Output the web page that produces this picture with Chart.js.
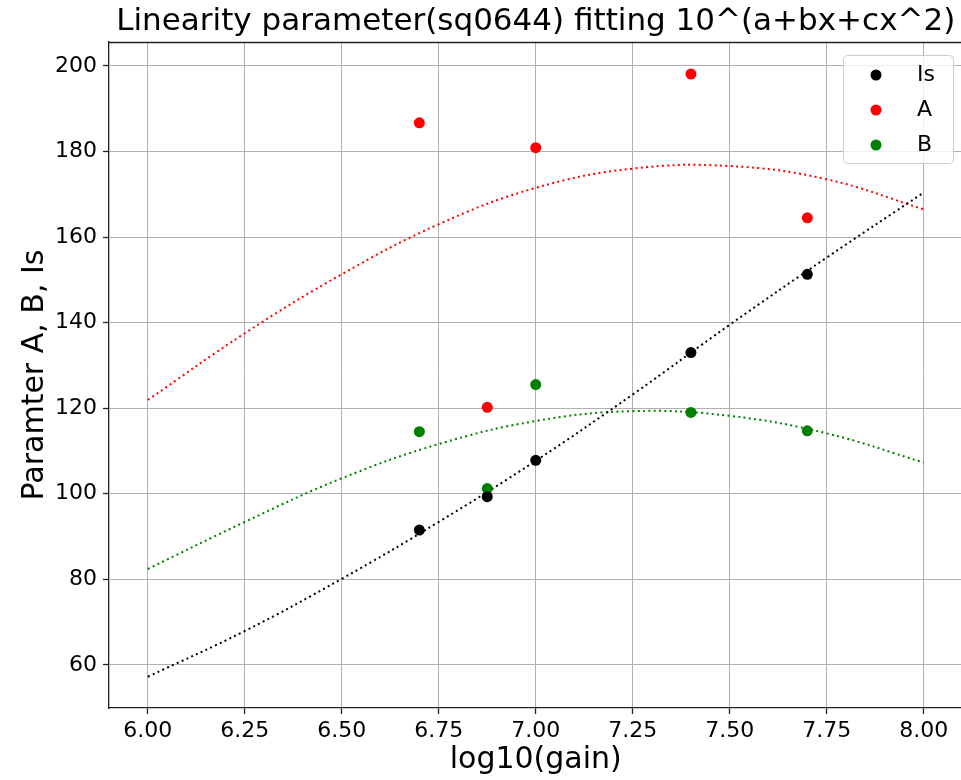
<!DOCTYPE html>
<html><head><meta charset="utf-8">
<script src="https://cdn.jsdelivr.net/npm/chart.js@4.4.1/dist/chart.umd.min.js"></script>
<style>
html,body{margin:0;padding:0;overflow:hidden;background:#fff;width:961px;height:780px}
#wrap{position:absolute;left:0;top:0;width:968px;height:780px}
</style></head><body>
<div id="wrap"><canvas id="c" width="968" height="780"></canvas></div>
<script>
// ---- data ----
const seriesNames = ['Is', 'A', 'B'];
const gainX   = [6.70, 6.875, 7.00, 7.40, 7.70];
const isValues = [91.5, 99.3, 107.8, 133.0, 151.3];
const aValues  = [186.7, 120.2, 180.9, 198.1, 164.5];
const bValues  = [114.5, 101.2, 125.5, 119.0, 114.7];
const fitX  = [6.00, 6.25, 6.50, 6.75, 7.00, 7.25, 7.50, 7.75, 8.00];
const fitIs = [57.2, 67.9, 80.1, 93.4, 107.7, 123.2, 139.5, 155.2, 170.4];
const fitA  = [121.9, 137.5, 151.3, 163.0, 171.5, 176.0, 176.6, 173.5, 166.5];
const fitB  = [82.4, 93.4, 103.6, 111.6, 117.0, 119.3, 118.2, 114.1, 107.3];
const xTicks = [6.00, 6.25, 6.50, 6.75, 7.00, 7.25, 7.50, 7.75, 8.00];
const yTicks = [60, 80, 100, 120, 140, 160, 180, 200];
const colors = ['#000000', '#ff0000', '#008000'];

const FONT = 'DejaVu Sans';
Chart.defaults.font.family = FONT;
Chart.defaults.color = '#000';

const pts = (xs, ys) => xs.map((x, i) => ({x: x, y: ys[i]}));

function marker(color) {
  const c = document.createElement('canvas');
  c.width = 12; c.height = 12;
  const g = c.getContext('2d');
  g.fillStyle = color; g.beginPath(); g.arc(6, 6, 5.5, 0, Math.PI * 2); g.fill();
  return c;
}

function scatterSet(label, ys, color) {
  return {type: 'scatter', label: label, data: pts(gainX, ys), backgroundColor: color,
    borderColor: color, borderWidth: 0, pointRadius: 5.5, pointHoverRadius: 5.5, showLine: false};
}
function fitSet(ys, color) {
  return {type: 'line', label: 'fit', data: pts(fitX, ys), borderColor: color, borderWidth: 2,
    borderDash: [2, 3.3], pointRadius: 0, tension: 0.4, fill: false, showLine: true};
}

const framePlugin = {
  id: 'framePlugin',
  beforeLayout(chart) {
    if (chart.legend) chart.legend._layers = () => [];
  },
  afterLayout(chart) {
    const lg = chart.legend; if (!lg) return;
    lg.left = 833; lg.top = 51; lg.right = 961; lg.bottom = 200;
    lg.width = lg.right - lg.left; lg.height = lg.bottom - lg.top;
  },
  afterDraw(chart) {
    const ctx = chart.ctx, a = chart.chartArea;
    ctx.save();
    // top spine
    ctx.strokeStyle = '#222'; ctx.lineWidth = 1.3;
    ctx.beginPath(); ctx.moveTo(a.left, a.top + 0.5); ctx.lineTo(a.right, a.top + 0.5); ctx.stroke();
    // legend frame
    ctx.fillStyle = 'rgba(255,255,255,0.8)';
    ctx.strokeStyle = '#cccccc'; ctx.lineWidth = 1;
    ctx.beginPath(); ctx.roundRect(843.5, 55.5, 110, 108, 4); ctx.fill(); ctx.stroke();
    ctx.restore();
    if (chart.legend) chart.legend.draw(a);
  }
};

new Chart(document.getElementById('c'), {
  type: 'scatter',
  data: {
    datasets: [
      scatterSet(seriesNames[0], isValues, colors[0]),
      scatterSet(seriesNames[1], aValues, colors[1]),
      scatterSet(seriesNames[2], bValues, colors[2]),
      fitSet(fitIs, colors[0]),
      fitSet(fitA, colors[1]),
      fitSet(fitB, colors[2])
    ]
  },
  options: {
    responsive: false, animation: false, devicePixelRatio: 1,
    layout: {padding: {left: 0, top: 0, right: 3.6, bottom: 0}},
    plugins: {
      tooltip: {enabled: false},
      title: {display: true, text: 'Linearity parameter(sq0644) fitting 10^(a+bx+cx^2)', fullSize: false,
        color: '#000', font: {family: FONT, size: 31, weight: 'normal'}, padding: {top: 3, bottom: 1.8}},
      legend: {
        display: true, position: 'chartArea', align: 'start',
        labels: {
          usePointStyle: true, pointStyleWidth: 60, boxHeight: 12, padding: 13, color: '#000',
          font: {family: FONT, size: 22},
          filter: (item) => item.datasetIndex < 3,
          generateLabels(chart) {
            const items = Chart.defaults.plugins.legend.labels.generateLabels(chart);
            return items.map(it => Object.assign({}, it, {pointStyle: marker(colors[it.datasetIndex] || '#000')}));
          }
        }
      }
    },
    scales: {
      x: {
        type: 'linear', min: 5.9, max: 8.1,
        afterBuildTicks: (s) => { s.ticks = xTicks.map(v => ({value: v})); },
        afterFit: (s) => { s.height = 72; },
        ticks: {callback: (v) => Number(v).toFixed(2), font: {size: 22}, color: '#000', padding: 4,
          maxRotation: 0, autoSkip: false},
        grid: {color: '#b0b0b0', lineWidth: 1, tickColor: '#222', tickLength: 6, tickWidth: 1.3},
        border: {color: '#222', width: 1.3},
        title: {display: true, text: 'log10(gain)', color: '#000', font: {size: 30}, padding: {top: 0, bottom: 2}}
      },
      y: {
        type: 'linear', min: 49.9, max: 205.6,
        afterBuildTicks: (s) => { s.ticks = yTicks.map(v => ({value: v})); },
        afterFit: (s) => { s.width = 109; },
        ticks: {callback: (v) => String(v), font: {size: 22}, color: '#000', padding: 6, autoSkip: false},
        grid: {color: '#b0b0b0', lineWidth: 1, tickColor: '#222', tickLength: 6, tickWidth: 1.3},
        border: {color: '#222', width: 1.3},
        title: {display: true, text: 'Paramter A, B, Is', color: '#000', font: {size: 30}, padding: {top: 17, bottom: 0}}
      }
    }
  },
  plugins: [framePlugin]
});
</script>
</body></html>
